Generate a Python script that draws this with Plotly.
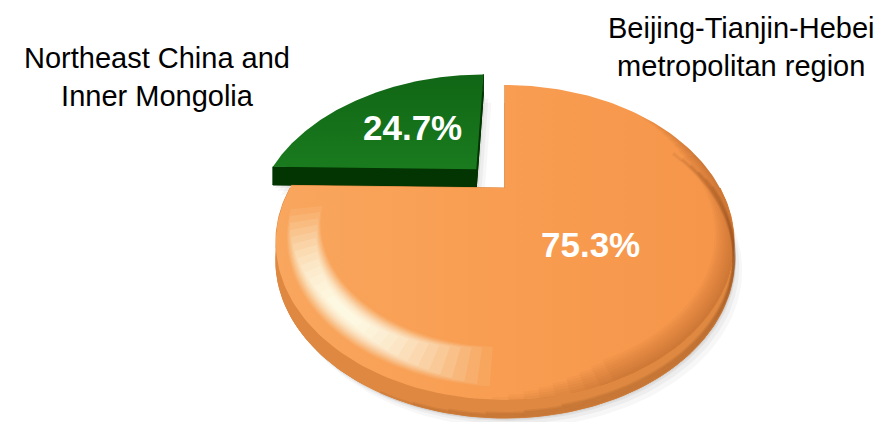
import numpy as np
import plotly.graph_objects as go

# ---- data -------------------------------------------------------------
regions = ["Beijing-Tianjin-Hebei<br>metropolitan region",
           "Northeast China and<br>Inner Mongolia"]
shares = [75.3, 24.7]

# ---- styling ------------------------------------------------------------
top_colors = ["#F79A4D", "#157019"]
side_colors = ["#DE8841", "#023502"]
pulls = [0.0, 0.2]
label_radius = [0.5, 0.52]
name_pos = [(741, 47), (157, 77)]

W, H = 894, 422
CX, CY = 505, 188               # projected pie centre
SX, SY, K = 215, 138.6, 0.346   # perspective scale factors
DEPTH = 18                      # pie thickness in px
START = 90                      # first slice starts at 12 o'clock, clockwise


def project(u, v):
    w = 1 + K * v
    return CX + SX * u / w, CY - SY * v / w


def sector(t0, t1, r0=0.0, r1=1.0, off=(0.0, 0.0), n=200):
    ts = np.radians(np.linspace(t0, t1, n))
    ou, ov = off
    if r0 == 0:
        u = np.concatenate([[ou], ou + r1 * np.cos(ts), [ou]])
        v = np.concatenate([[ov], ov + r1 * np.sin(ts), [ov]])
    else:
        u = np.concatenate([ou + r1 * np.cos(ts), ou + r0 * np.cos(ts[::-1]), [ou + r1 * np.cos(ts[0])]])
        v = np.concatenate([ov + r1 * np.sin(ts), ov + r0 * np.sin(ts[::-1]), [ov + r1 * np.sin(ts[0])]])
    return project(u, v)


def arc(t0, t1, off, n=200):
    ts = np.radians(np.linspace(t0, t1, n))
    return project(off[0] + np.cos(ts), off[1] + np.sin(ts))


def poly(x, y, color, line=0.0, gradient=None):
    kw = dict(x=x, y=y, mode="lines", fill="toself", fillcolor=color,
              line=dict(width=line, color=color), hoverinfo="skip", showlegend=False)
    if gradient is not None:
        kw["fillgradient"] = gradient
    return go.Scatter(**kw)


def side_traces(t0, t1, off, color):
    out = []
    xs, ys = sector(t0, t1, off=off)
    out.append(poly(xs, ys + DEPTH, color, 1))           # bottom face
    for k in (-1, 0, 1):                                  # front rim band
        a0, a1 = max(t0, -180 + 360 * k), min(t1, 360 * k)
        if a1 > a0:
            ax, ay = arc(a0, a1, off)
            out.append(poly(np.concatenate([ax, ax[::-1]]),
                            np.concatenate([ay, ay[::-1] + DEPTH]), color, 1))
    cx, cy = project(*off)
    for t in (t0, t1):                                    # radial walls
        ex, ey = project(off[0] + np.cos(np.radians(t)), off[1] + np.sin(np.radians(t)))
        out.append(poly([cx, ex, ex, cx, cx], [cy, ey, ey + DEPTH, cy + DEPTH, cy], color, 1))
    return out


# slice angle ranges (clockwise from START)
total = sum(shares)
angles = []
a = START
for s in shares:
    span = 360 * s / total
    angles.append((a - span, a))
    a -= span

fig = go.Figure()

geo = []
for i, (t0, t1) in enumerate(angles):
    mid = np.radians((t0 + t1) / 2)
    off = (pulls[i] * np.cos(mid), pulls[i] * np.sin(mid))
    xs, ys = sector(t0, t1, off=off)
    geo.append((xs, ys, off))

# soft drop shadows
for dx, dy, al in [(2, 3, 0.05), (5, 6, 0.04), (8, 10, 0.03)]:
    for xs, ys, _ in geo:
        fig.add_trace(poly(xs + dx, ys + DEPTH + dy, f"rgba(0,0,0,{al})"))

# back slice (green) first, then the front slice (orange)
for i in [1, 0]:
    xs, ys, off = geo[i]
    t0, t1 = angles[i]
    for tr in side_traces(t0, t1, off, side_colors[i]):
        fig.add_trace(tr)
    if i == 0:
        grad = dict(type="horizontal",
                    colorscale=[[0, "#F9A65E"], [0.5, "#F89D51"], [1, "#F5954A"]])
    else:
        grad = dict(type="vertical",
                    colorscale=[[0, "#1A7B1E"], [1, "#106615"]])
    fig.add_trace(poly(xs, ys, top_colors[i], gradient=grad))

o_lo = angles[0][0]
# darker edge along the lower-right outline of the orange side
N = 6
for j in range(N):
    f = (j + 1) / N
    ax, ay = arc(-120 + 40 * f, 30 - 25 * f, (0, 0))
    fig.add_trace(go.Scatter(x=ax, y=ay + DEPTH - 1.5 * j, mode="lines", hoverinfo="skip",
                             line=dict(color="rgba(120,60,20,0.10)", width=3), showlegend=False))
# bevel shading on the orange top: darker rim on the right ...
N = 9
for j in range(N):
    f = (j + 1) / N
    r0 = 1 - 0.075 * f
    fig.add_trace(poly(*sector(-95 + 25 * f, 45 - 30 * f, r0, 1.0), "rgba(130,65,20,0.045)"))
# ... and a soft highlight on the lower left
N = 14
for j in range(N):
    f = (j + 1) / N
    half_a = 38 * (1 - f) + 6
    half_r = 0.06 * (1 - f) + 0.012
    a0 = max(o_lo + 2, -130 - half_a)
    a1 = -130 + half_a * 0.9
    fig.add_trace(poly(*sector(a0, a1, 0.89 - half_r, 0.89 + half_r),
                       f"rgba(255,254,236,{0.07 + 0.2 * f:.3f})"))

# percentage labels
for i, (t0, t1) in enumerate(angles):
    mid = np.radians((t0 + t1) / 2)
    r = pulls[i] + label_radius[i]
    lx, ly = project(r * np.cos(mid), r * np.sin(mid))
    fig.add_annotation(x=lx, y=ly, text=f"<b>{shares[i]:.1f}%</b>", showarrow=False,
                       font=dict(family="Liberation Sans, Arial", size=35, color="white"),
                       xanchor="center", yanchor="middle")

# category labels
for i, name in enumerate(regions):
    fig.add_annotation(x=name_pos[i][0], y=name_pos[i][1], text=name, showarrow=False,
                       font=dict(family="Liberation Sans, Arial", size=29, color="black"),
                       xanchor="center", yanchor="middle", align="center")

fig.update_layout(
    width=W, height=H, margin=dict(l=0, r=0, t=0, b=0),
    paper_bgcolor="white", plot_bgcolor="white",
    xaxis=dict(range=[0, W], visible=False, fixedrange=True),
    yaxis=dict(range=[H, 0], visible=False, fixedrange=True),
)
fig.write_html("out.html")
